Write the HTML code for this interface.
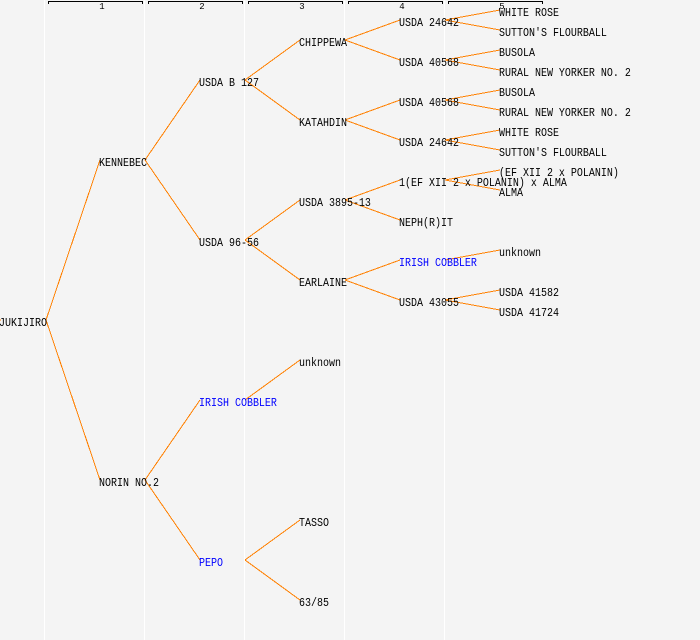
<!DOCTYPE html>
<html>
<head>
<meta charset="utf-8">
<style>
html,body{margin:0;padding:0;background:#f4f4f4;width:700px;height:640px;overflow:hidden}
svg{display:block}
text{font-family:"Liberation Mono","DejaVu Sans Mono",monospace;font-size:12px;fill:#000}
.b{fill:#0000ff}
.n{font-size:9px;text-anchor:middle}
.l line{stroke:#ff8000;stroke-width:1}
.c line{stroke:#ffffff;stroke-width:1}
.h path{stroke:#000;stroke-width:1;fill:none}
</style>
</head>
<body>
<svg width="700" height="640" viewBox="0 0 700 640" xmlns="http://www.w3.org/2000/svg">
<rect width="700" height="640" fill="#f4f4f4"/>
<g class="c" shape-rendering="crispEdges">
<line x1="44.5" y1="0" x2="44.5" y2="640"/>
<line x1="144.5" y1="0" x2="144.5" y2="640"/>
<line x1="244.5" y1="0" x2="244.5" y2="640"/>
<line x1="344.5" y1="0" x2="344.5" y2="640"/>
<line x1="444.5" y1="0" x2="444.5" y2="640"/>
</g>
<g class="h" shape-rendering="crispEdges">
<path d="M48.5 4V1.5H142.5V4"/>
<path d="M148.5 4V1.5H242.5V4"/>
<path d="M248.5 4V1.5H342.5V4"/>
<path d="M348.5 4V1.5H442.5V4"/>
<path d="M448.5 4V1.5H542.5V4"/>
</g>
<text class="n" x="102" y="9">1</text>
<text class="n" x="202" y="9">2</text>
<text class="n" x="302" y="9">3</text>
<text class="n" x="402" y="9">4</text>
<text class="n" x="502" y="9">5</text>
<g class="l" shape-rendering="crispEdges">
<line x1="0" y1="320" x2="1" y2="320"/>
<line x1="46" y1="320" x2="100" y2="160"/>
<line x1="46" y1="320" x2="100" y2="480"/>
<line x1="145" y1="160" x2="200" y2="80"/>
<line x1="145" y1="160" x2="200" y2="240"/>
<line x1="145" y1="480" x2="200" y2="400"/>
<line x1="145" y1="480" x2="200" y2="560"/>
<line x1="245" y1="80" x2="300" y2="40"/>
<line x1="245" y1="80" x2="300" y2="120"/>
<line x1="245" y1="240" x2="300" y2="200"/>
<line x1="245" y1="240" x2="300" y2="280"/>
<line x1="245" y1="400" x2="300" y2="360"/>
<line x1="245" y1="560" x2="300" y2="520"/>
<line x1="245" y1="560" x2="300" y2="600"/>
<line x1="345" y1="40" x2="400" y2="20"/>
<line x1="345" y1="40" x2="400" y2="60"/>
<line x1="345" y1="120" x2="400" y2="100"/>
<line x1="345" y1="120" x2="400" y2="140"/>
<line x1="345" y1="200" x2="400" y2="180"/>
<line x1="345" y1="200" x2="400" y2="220"/>
<line x1="345" y1="280" x2="400" y2="260"/>
<line x1="345" y1="280" x2="400" y2="300"/>
<line x1="445" y1="20" x2="500" y2="10"/>
<line x1="445" y1="20" x2="500" y2="30"/>
<line x1="445" y1="60" x2="500" y2="50"/>
<line x1="445" y1="60" x2="500" y2="70"/>
<line x1="445" y1="100" x2="500" y2="90"/>
<line x1="445" y1="100" x2="500" y2="110"/>
<line x1="445" y1="140" x2="500" y2="130"/>
<line x1="445" y1="140" x2="500" y2="150"/>
<line x1="445" y1="180" x2="500" y2="170"/>
<line x1="445" y1="180" x2="500" y2="190"/>
<line x1="445" y1="260" x2="500" y2="250"/>
<line x1="445" y1="300" x2="500" y2="290"/>
<line x1="445" y1="300" x2="500" y2="310"/>
</g>
<g transform="translate(-1,0) scale(.8333,1)">
<text y="326">JUKIJIRO</text>
</g>
<g transform="translate(99,0) scale(.8333,1)">
<text y="166">KENNEBEC</text>
<text y="486">NORIN NO.2</text>
</g>
<g transform="translate(199,0) scale(.8333,1)">
<text y="86">USDA B 127</text>
<text y="246">USDA 96-56</text>
<text class="b" y="406">IRISH COBBLER</text>
<text class="b" y="566">PEPO</text>
</g>
<g transform="translate(299,0) scale(.8333,1)">
<text y="46">CHIPPEWA</text>
<text y="126">KATAHDIN</text>
<text y="206">USDA 3895-13</text>
<text y="286">EARLAINE</text>
<text y="366">unknown</text>
<text y="526">TASSO</text>
<text y="606">63/85</text>
</g>
<g transform="translate(399,0) scale(.8333,1)">
<text y="26">USDA 24642</text>
<text y="66">USDA 40568</text>
<text y="106">USDA 40568</text>
<text y="146">USDA 24642</text>
<text y="186">1(EF XII 2 x POLANIN) x ALMA</text>
<text y="226">NEPH(R)IT</text>
<text class="b" y="266">IRISH COBBLER</text>
<text y="306">USDA 43055</text>
</g>
<g transform="translate(499,0) scale(.8333,1)">
<text y="16">WHITE ROSE</text>
<text y="36">SUTTON'S FLOURBALL</text>
<text y="56">BUSOLA</text>
<text y="76">RURAL NEW YORKER NO. 2</text>
<text y="96">BUSOLA</text>
<text y="116">RURAL NEW YORKER NO. 2</text>
<text y="136">WHITE ROSE</text>
<text y="156">SUTTON'S FLOURBALL</text>
<text y="176">(EF XII 2 x POLANIN)</text>
<text y="196">ALMA</text>
<text y="256">unknown</text>
<text y="296">USDA 41582</text>
<text y="316">USDA 41724</text>
</g>
</svg>
</body>
</html>
